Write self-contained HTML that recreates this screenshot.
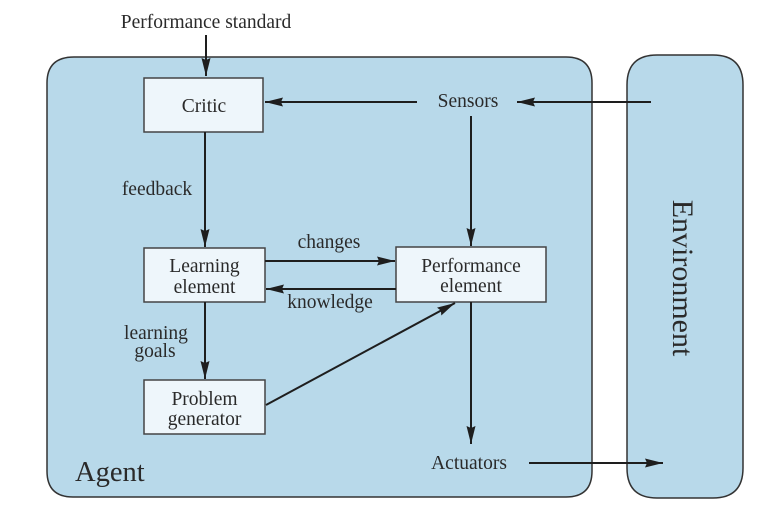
<!DOCTYPE html>
<html><head><meta charset="utf-8">
<style>
html,body{margin:0;padding:0;background:#fff;}
svg{display:block;}
text{font-family:"Liberation Serif",serif;fill:#2a2a2a;}
</style></head>
<body>
<svg width="774" height="528" viewBox="0 0 774 528" xmlns="http://www.w3.org/2000/svg">
<defs>
<marker id="ah" viewBox="0 0 18 10" refX="18" refY="5" markerWidth="18" markerHeight="10" markerUnits="userSpaceOnUse" orient="auto">
<path d="M0,0.5 L18,5 L0,9.5 L2,5 Z" fill="#1e1e1e"/>
</marker>
</defs>
<!-- Agent -->
<path d="M74,57 L566,57 Q592,57 592,83 L592,471 Q592,497 566,497 L73,497 Q47,497 47,471 L47,83 Q47,57 74,57 Z" fill="#b8d9ea" stroke="#333" stroke-width="1.5"/>
<!-- Environment -->
<path d="M657,55 L713,55 Q743,55 743,85 L743,468 Q743,498 713,498 L657,498 Q627,498 627,468 L627,85 Q627,55 657,55 Z" fill="#b8d9ea" stroke="#333" stroke-width="1.5"/>

<!-- boxes -->
<rect x="144" y="78" width="119" height="54" fill="#eef6fb" stroke="#444" stroke-width="1.5"/>
<rect x="144" y="248" width="121" height="54" fill="#eef6fb" stroke="#444" stroke-width="1.5"/>
<rect x="144" y="380" width="121" height="54" fill="#eef6fb" stroke="#444" stroke-width="1.5"/>
<rect x="396" y="247" width="150" height="55" fill="#eef6fb" stroke="#444" stroke-width="1.5"/>

<!-- arrows -->
<g stroke="#1e1e1e" stroke-width="2" fill="none" marker-end="url(#ah)">
<line x1="206" y1="35" x2="206" y2="76"/>
<line x1="417" y1="102" x2="265" y2="102"/>
<line x1="651" y1="102" x2="517" y2="102"/>
<line x1="205" y1="132" x2="205" y2="247"/>
<line x1="205" y1="302" x2="205" y2="379"/>
<line x1="265" y1="261" x2="395" y2="261"/>
<line x1="396" y1="289" x2="266" y2="289"/>
<line x1="471" y1="116" x2="471" y2="246"/>
<line x1="471" y1="302" x2="471" y2="444"/>
<line x1="266" y1="405" x2="455" y2="303"/>
<line x1="529" y1="463" x2="663" y2="463"/>
</g>

<!-- labels -->
<g font-size="19.5" text-anchor="middle">
<text x="206" y="28">Performance standard</text>
<text x="204" y="112">Critic</text>
<text x="157" y="195">feedback</text>
<text x="204.5" y="272">Learning</text>
<text x="204.5" y="293">element</text>
<text x="329" y="248">changes</text>
<text x="330" y="308">knowledge</text>
<text x="471" y="272">Performance</text>
<text x="471" y="292">element</text>
<text x="156" y="339">learning</text>
<text x="155" y="357">goals</text>
<text x="204.5" y="405">Problem</text>
<text x="204.5" y="425">generator</text>
<text x="468" y="107">Sensors</text>
<text x="469" y="469">Actuators</text>
</g>
<text x="75" y="481" font-size="28.5">Agent</text>
<text transform="translate(673,278) rotate(90)" font-size="30" text-anchor="middle">Environment</text>
</svg>
</body></html>
